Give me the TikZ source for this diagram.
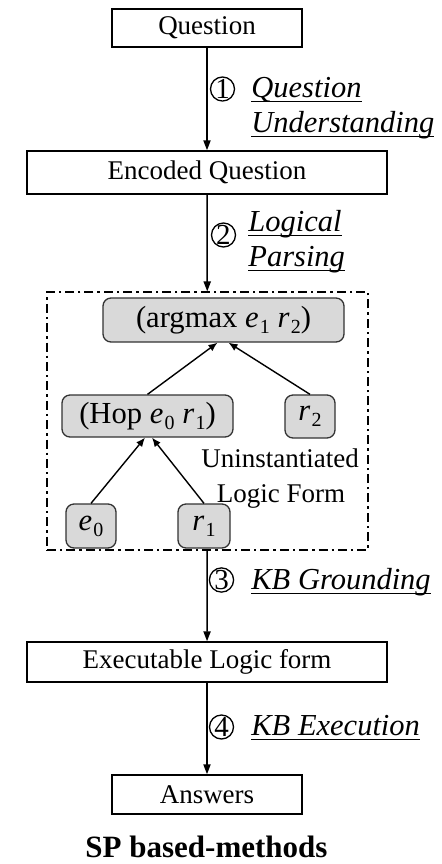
\documentclass[tikz,border=0pt]{standalone}
\usepackage{fontspec}
\setmainfont{Liberation Serif}
\usetikzlibrary{arrows.meta}

% underline set a fixed distance below the baseline
\newsavebox\ulbox
\newcommand\ulw[1]{\sbox\ulbox{#1}\rlap{\rule[-0.17em]{\wd\ulbox}{0.055em}}\usebox\ulbox}
% italic variable with an upright subscript
\newcommand\mv[2]{\textit{#1}\kern0.04em\raisebox{-3pt}{\fontsize{10}{10}\selectfont #2}}

\definecolor{leafgray}{HTML}{D9D9D9}
\definecolor{leafedge}{HTML}{333333}

\tikzset{
  stagebox/.style={draw, line width=0.75pt, inner sep=0pt,
    font=\fontsize{13.5}{15}\selectfont},
  treebox/.style={draw=leafedge, fill=leafgray, line width=0.65pt,
    rounded corners=4pt, inner sep=0pt, font=\fontsize{15.3}{17}\selectfont},
  flow/.style={line width=0.75pt, -{Triangle[length=5pt,width=3.6pt]}},
  treeflow/.style={line width=0.7pt, -{Latex[length=4.5pt,width=3.8pt]}},
  stepnum/.style={circle, draw, line width=0.65pt, inner sep=0pt,
    minimum size=12pt, font=\fontsize{14.5}{14.5}\selectfont},
  steptext/.style={anchor=base west, inner sep=0pt,
    font=\fontsize{15.25}{17}\selectfont\itshape},
  note/.style={anchor=base, inner sep=0pt, font=\fontsize{13.5}{15}\selectfont}
}

\begin{document}
\begin{tikzpicture}[x=0.5pt, y=-0.5pt]
\useasboundingbox (0,0) rectangle (442,864);

% pipeline stages
\node[stagebox, minimum width=95pt, minimum height=19pt] (q) at (207,28) {Question};
\node[stagebox, minimum width=180pt, minimum height=21.5pt] (enc) at (207,172.5) {Encoded Question};
\node[draw, line width=0.6pt, dash pattern=on 4.5pt off 2pt on 1.2pt off 2pt,
      minimum width=160.5pt, minimum height=129pt, inner sep=0pt] (frame) at (207.5,421) {};
\node[stagebox, minimum width=180pt, minimum height=20pt] (exec) at (207,662) {Executable Logic form};
\node[stagebox, minimum width=95pt, minimum height=19.5pt] (ans) at (207,794.5) {Answers};

% logic form tree
\node[treebox, minimum width=120.5pt, minimum height=22pt] (arg) at (223.5,320)
  {(argmax \mv{e}{1} \mv{r}{2})};
\node[treebox, minimum width=85.5pt, minimum height=21pt] (hop) at (147.5,416)
  {(Hop \mv{e}{0} \mv{r}{1})};
\node[treebox, minimum width=25pt, minimum height=21.5pt] (r2) at (310,416.5) {\mv{r}{2}};
\node[treebox, minimum width=25pt, minimum height=22pt] (e0) at (91,526) {\mv{e}{0}};
\node[treebox, minimum width=26pt, minimum height=22pt] (r1) at (204,526) {\mv{r}{1}};
\node[note] (un1) at (280,467) {Uninstantiated};
\node[note] (un2) at (281,502) {Logic Form};

\draw[treeflow] (hop.north) -- ([xshift=-3pt]arg.south);
\draw[treeflow] (r2.north) -- ([xshift=2.5pt]arg.south);
\draw[treeflow] (e0.north) -- ([xshift=-1.25pt]hop.south);
\draw[treeflow] (r1.north) -- ([xshift=2.25pt]hop.south);

% stage connectors
\draw[flow] (q) -- (enc);
\draw[flow] (enc) -- (frame);
\draw[flow] (frame) -- (exec);
\draw[flow] (exec) -- (ans);

% step labels
\node[stepnum] (n1) at (222.5,89) {1};
\node[steptext] (s1a) at (251,97) {\ulw{Question}};
\node[steptext] (s1b) at (251,132) {\ulw{Understanding}};

\node[stepnum] (n2) at (223.5,235) {2};
\node[steptext] (s2a) at (248,231) {\ulw{Logical}};
\node[steptext] (s2b) at (248,266) {\ulw{Parsing}};

\node[stepnum] (n3) at (221.5,580) {3};
\node[steptext] (s3) at (251,589) {\ulw{KB Grounding}};

\node[stepnum] (n4) at (221.5,727) {4};
\node[steptext] (s4) at (251,735) {\ulw{KB Execution}};

% caption
\node[anchor=base, inner sep=0pt, font=\fontsize{15.5}{17}\selectfont\bfseries] (cap) at (206.5,857)
  {SP based-methods};
\end{tikzpicture}
\end{document}
